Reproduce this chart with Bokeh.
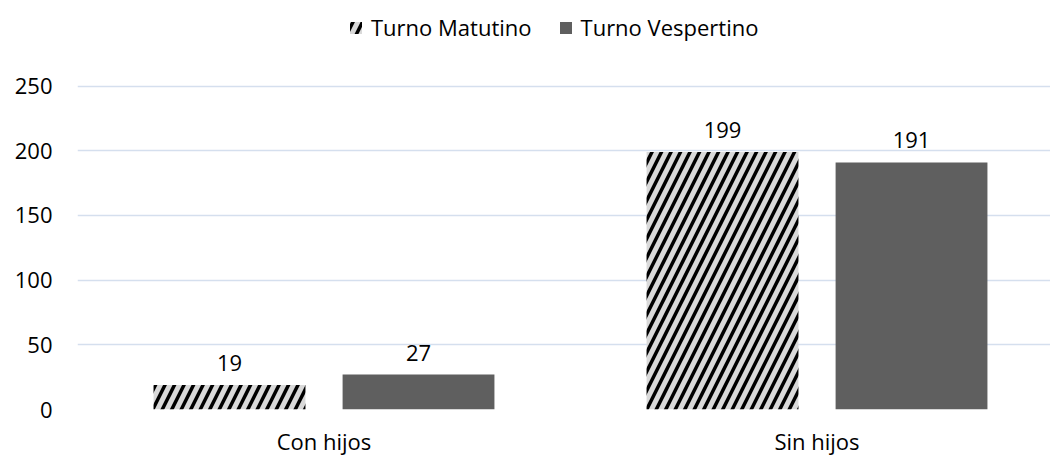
from bokeh.plotting import figure
from bokeh.models import ColumnDataSource, FixedTicker, Legend, LegendItem, LabelSet, Range1d
from bokeh.core.properties import value
from bokeh.embed import file_html
from bokeh.resources import INLINE

categories = ["Con hijos", "Sin hijos"]
series_names = ["Turno Matutino", "Turno Vespertino"]
matutino = [19, 199]
vespertino = [27, 191]
y_ticks = [0, 50, 100, 150, 200, 250]

FONT = "Open Sans"
FS = "22px"
GRID = "#d5dfee"
GRAY = "#5f5f5f"

x_pos = list(range(len(categories)))
off = 0.1917
bw = 0.308

src_m = ColumnDataSource(dict(x=[x - off for x in x_pos], y=matutino, t=[str(v) for v in matutino]))
src_v = ColumnDataSource(dict(x=[x + off for x in x_pos], y=vespertino, t=[str(v) for v in vespertino]))

# frame: x 77..1050, y 12..411 ; 1.3 px per unit -> top = 250 + 74/1.3
p = figure(width=1050, height=458, output_backend="svg", toolbar_location=None,
           x_range=Range1d(-0.5, 1.4736), y_range=Range1d(0, 306.9),
           min_border_left=77, min_border_right=0, min_border_top=12, min_border_bottom=47)
p.outline_line_color = None

r1 = p.vbar(x="x", top="y", width=bw, source=src_m, fill_color="#d9d9d9", line_color=None,
            hatch_pattern="/", hatch_color="black", hatch_scale=19, hatch_weight=3.5)
r2 = p.vbar(x="x", top="y", width=bw, source=src_v, fill_color=GRAY, line_color=None)

for s in (src_m, src_v):
    p.add_layout(LabelSet(x="x", y="y", text="t", source=s, text_align="center",
                          text_baseline="bottom", y_offset=14, text_font=value(FONT),
                          text_font_size=value(FS), text_color="black"))

p.xaxis.ticker = FixedTicker(ticks=x_pos)
p.xaxis.major_label_overrides = {i: c for i, c in zip(x_pos, categories)}
p.yaxis.ticker = FixedTicker(ticks=y_ticks)
for ax in (p.xaxis, p.yaxis):
    ax.axis_line_color = None
    ax.major_tick_line_color = None
    ax.minor_tick_line_color = None
    ax.major_tick_out = 0
    ax.major_tick_in = 0
    ax.major_label_text_font = FONT
    ax.major_label_text_font_size = FS
    ax.major_label_text_color = "black"
p.xaxis.major_label_standoff = 16
p.yaxis.major_label_standoff = 25

p.xgrid.grid_line_color = None
p.ygrid.grid_line_color = GRID
p.ygrid.grid_line_width = 1.3
p.ygrid.ticker = FixedTicker(ticks=y_ticks)

legend = Legend(items=[LegendItem(label=series_names[0], renderers=[r1]),
                       LegendItem(label=series_names[1], renderers=[r2])],
                orientation="horizontal", location=(271, 367),
                padding=0, margin=0, spacing=26, label_standoff=8,
                glyph_width=15, glyph_height=15,
                border_line_color=None, background_fill_alpha=0,
                label_text_font=FONT, label_text_font_size=FS, label_text_color="black")
p.add_layout(legend, "center")

open("out.html", "w").write(file_html(p, INLINE))
